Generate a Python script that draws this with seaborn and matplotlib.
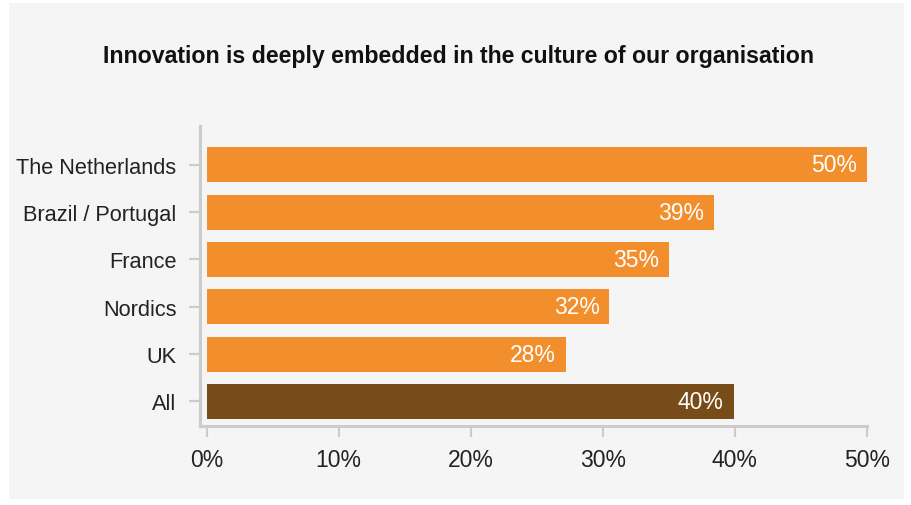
import matplotlib
matplotlib.use("Agg")
import matplotlib.pyplot as plt
import seaborn as sns
import pandas as pd
from matplotlib.patches import Rectangle

categories = ["The Netherlands", "Brazil / Portugal", "France", "Nordics", "UK", "All"]
values = [50.0, 38.4, 35.0, 30.5, 27.2, 39.9]
value_labels = ["50%", "39%", "35%", "32%", "28%", "40%"]
bar_colors = ["#f28e2b", "#f28e2b", "#f28e2b", "#f28e2b", "#f28e2b", "#774c18"]
x_ticks = [0, 10, 20, 30, 40, 50]
x_tick_labels = ["0%", "10%", "20%", "30%", "40%", "50%"]
title = "Innovation is deeply embedded in the culture of our organisation"

df = pd.DataFrame({"category": categories, "value": values})

sns.set_theme(style="white")
plt.rcParams["font.family"] = ["Liberation Sans", "DejaVu Sans"]

W, H = 911, 506
fig = plt.figure(figsize=(W / 100, H / 100), dpi=100, facecolor="white")
fig.patches.append(Rectangle((9 / W, 1 - 500 / H), (904 - 9) / W, (500 - 4) / H,
                             transform=fig.transFigure, facecolor="#f5f5f5",
                             edgecolor="none", zorder=-10))

left, right = 200 / W, 867 / W
top, bottom = 1 - 127 / H, 1 - 427 / H
ax = fig.add_axes([left, bottom, right - left, top - bottom])
ax.set_facecolor("none")

sns.barplot(data=df, y="category", x="value", hue="category", palette=bar_colors,
            order=categories, hue_order=categories, legend=False, width=0.74,
            saturation=1, linewidth=0, ax=ax)

ax.set_xlim(-0.5, 50)
ax.set_ylim(5.52, -0.82)

for i, (v, lab) in enumerate(zip(values, value_labels)):
    ax.text(v - 0.75, i, lab, ha="right", va="center", color="white", fontsize=16.5)

ax.set_xticks(x_ticks)
ax.set_xticklabels(x_tick_labels, fontsize=16.5, color="#222222")
ax.tick_params(axis="y", labelsize=15.7, labelcolor="#222222")
ax.set_xlabel("")
ax.set_ylabel("")

for s in ["top", "right"]:
    ax.spines[s].set_visible(False)
for s in ["left", "bottom"]:
    ax.spines[s].set_color("#cccccc")
    ax.spines[s].set_linewidth(2.2)
ax.tick_params(axis="both", which="major", direction="out", length=8, width=1.6,
               color="#cccccc", left=True, bottom=True)
ax.tick_params(axis="x", pad=8)
ax.tick_params(axis="y", pad=9)

fig.text(459 / W, 1 - 57 / H, title, ha="center", va="center", fontsize=16.7,
         fontweight="bold", color="#111111")

fig.savefig("out.png", dpi=100, facecolor="white")
